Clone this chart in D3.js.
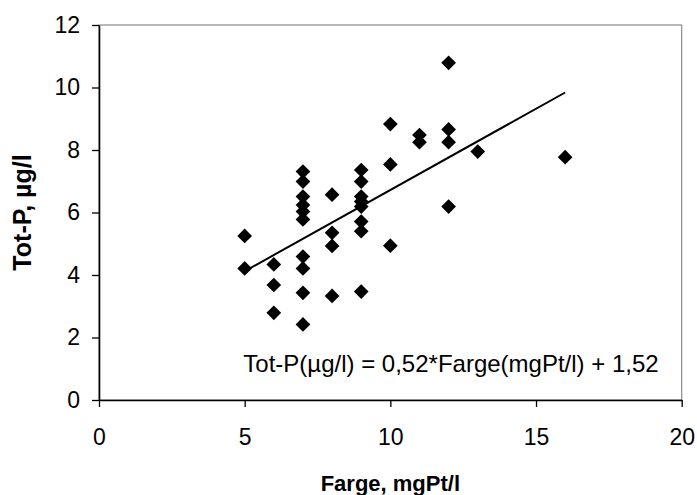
<!DOCTYPE html>
<html>
<head>
<meta charset="utf-8">
<script src="https://cdn.jsdelivr.net/npm/d3@7"></script>
<style>
  body { margin: 0; background: #fff; }
  text { font-family: "Liberation Sans", Arial, sans-serif; fill: #000; }
</style>
</head>
<body>
<svg id="chart" width="697" height="495"></svg>
<script>
// Farge (x) and Tot-P (y) per sample
let farge = [5, 5,
  6, 6, 6,
  7, 7, 7, 7, 7, 7, 7, 7, 7, 7,
  8, 8, 8, 8,
  9, 9, 9, 9, 9, 9, 9, 9,
  10, 10, 10,
  11, 11,
  12, 12, 12, 12,
  13, 16];
let totP = [5.25, 4.21,
  4.34, 3.68, 2.79,
  7.31, 6.99, 6.51, 6.24, 6.03, 5.78, 4.59, 4.21, 3.43, 2.42,
  6.57, 5.35, 4.93, 3.33,
  7.36, 6.99, 6.51, 6.35, 6.19, 5.71, 5.40, 3.47,
  8.83, 7.54, 4.94,
  8.48, 8.25,
  10.79, 8.66, 8.25, 6.19,
  7.95, 7.77];

// trend line from the regression label
let slope = 0.52;
let intercept = 1.52;
let equation = "Tot-P(µg/l) = 0,52*Farge(mgPt/l) + 1,52";

let xTicks = [0, 5, 10, 15, 20];
let yTicks = [0, 2, 4, 6, 8, 10, 12];

let margin = { left: 99, right: 15, top: 25, bottom: 95 };
let width = 697, height = 495;

let svg = d3.select("#chart");

let xScale = d3.scaleLinear()
  .domain([0, 20])
  .range([margin.left, width - margin.right - 0.3]);
let yScale = d3.scaleLinear()
  .domain([0, 12])
  .range([height - margin.bottom, margin.top]);

let data = farge.map((d, i) => ({ x: d, y: totP[i] }));

// plot area border (grey, top and right)
svg.append("rect")
  .attr("x", xScale(0))
  .attr("y", yScale(12))
  .attr("width", xScale(20) - xScale(0))
  .attr("height", yScale(0) - yScale(12))
  .attr("fill", "none")
  .attr("stroke", "#8a8a8a")
  .attr("stroke-width", 1.2);

// axes
let xAxis = svg.append("g")
  .attr("transform", "translate(0," + yScale(0) + ")")
  .call(d3.axisBottom(xScale).tickValues(xTicks).tickSize(7).tickSizeOuter(0).tickPadding(22));
let yAxis = svg.append("g")
  .attr("transform", "translate(" + xScale(0) + ",0)")
  .call(d3.axisLeft(yScale).tickValues(yTicks).tickSize(7).tickSizeOuter(0).tickPadding(12));

[xAxis, yAxis].forEach(function(ax) {
  ax.select(".domain").attr("stroke", "#000").attr("stroke-width", 1.6);
  ax.selectAll(".tick line").attr("stroke", "#000").attr("stroke-width", 1.3);
  ax.selectAll(".tick text")
    .attr("font-size", 23)
    .attr("font-family", "Liberation Sans, Arial, sans-serif")
    .attr("fill", "#000");
});

// trend line
let xExt = d3.extent(farge);
svg.append("line")
  .attr("x1", xScale(xExt[0]))
  .attr("y1", yScale(slope * xExt[0] + intercept))
  .attr("x2", xScale(xExt[1]))
  .attr("y2", yScale(slope * xExt[1] + intercept))
  .attr("stroke", "#000")
  .attr("stroke-width", 2);

// diamond markers
svg.append("g")
  .selectAll("path")
  .data(data)
  .enter()
  .append("path")
  .attr("d", d3.symbol().type(d3.symbolSquare).size(108))
  .attr("transform", d => "translate(" + xScale(d.x) + "," + yScale(d.y) + ") rotate(45)")
  .attr("fill", "#000");

// regression equation
svg.append("text")
  .attr("x", 451)
  .attr("y", 372)
  .attr("text-anchor", "middle")
  .attr("font-size", 24)
  .text(equation);

// axis titles
svg.append("text")
  .attr("x", (xScale(0) + xScale(20)) / 2)
  .attr("y", 491)
  .attr("text-anchor", "middle")
  .attr("font-size", 22)
  .attr("font-weight", "bold")
  .text("Farge, mgPt/l");

svg.append("text")
  .attr("transform", "translate(31," + (yScale(0) + yScale(12)) / 2 + ") rotate(-90)")
  .attr("text-anchor", "middle")
  .attr("font-size", 25)
  .attr("font-weight", "bold")
  .text("Tot-P, µg/l");
</script>
</body>
</html>
